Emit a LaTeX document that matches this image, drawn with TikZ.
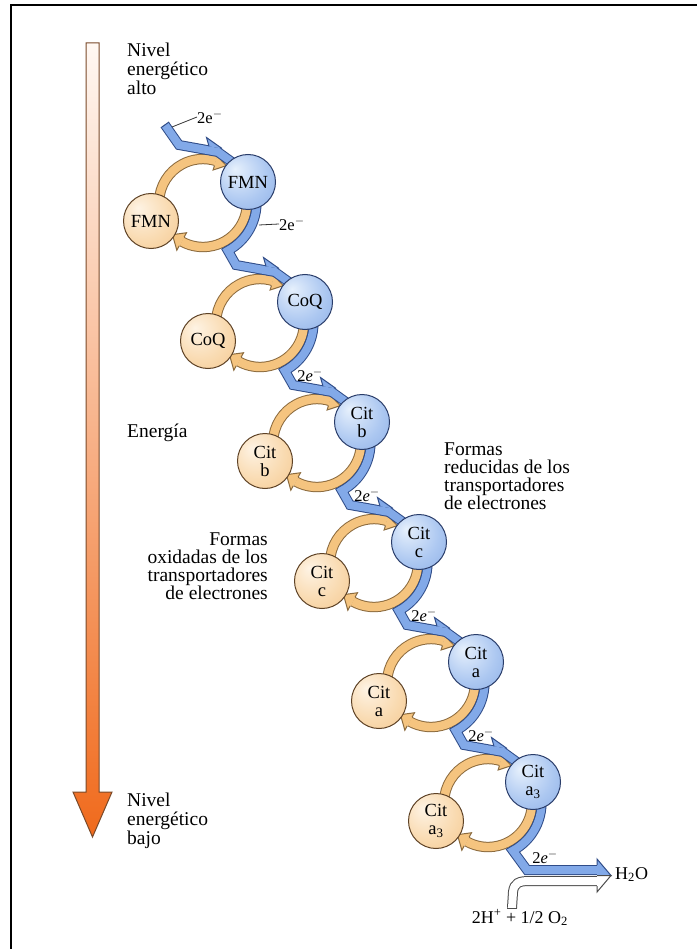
\documentclass[tikz,border=0pt]{standalone}
\usepackage{fontspec}
\setmainfont{Liberation Serif}
\definecolor{bluelight}{HTML}{E6F0FC}
\definecolor{bluemid}{HTML}{ADC8F1}
\definecolor{bluedark}{HTML}{6A95DC}
\definecolor{blueline}{HTML}{2A3D6A}
\definecolor{orlight}{HTML}{FEF3E4}
\definecolor{ormid}{HTML}{F9DAB0}
\definecolor{ordark}{HTML}{EFB46C}
\definecolor{orline}{HTML}{5E4226}
\definecolor{tanfill}{HTML}{F5C47F}
\definecolor{tanline}{HTML}{8C6B3E}
\definecolor{bandfill}{HTML}{82A9E8}
\definecolor{bandline}{HTML}{2F4C88}
\definecolor{arrtop}{HTML}{FFF8F3}
\definecolor{arrbot}{HTML}{F06A1C}
\definecolor{arrline}{HTML}{7A4A2A}
\pgfdeclareradialshading{bsph}{\pgfpoint{-12bp}{12bp}}{color(0bp)=(bluelight); color(25bp)=(bluemid); color(62bp)=(bluedark)}
\pgfdeclareradialshading{osph}{\pgfpoint{-12bp}{12bp}}{color(0bp)=(orlight); color(25bp)=(ormid); color(62bp)=(ordark)}
\tikzset{
 bcirc/.style={circle, draw=blueline, line width=1pt, shade, shading=bsph, minimum size=55pt, inner sep=0pt, align=center, font=\fontsize{18.5pt}{18pt}\selectfont},
 ocirc/.style={circle, draw=orline, line width=1pt, shade, shading=osph, minimum size=55pt, inner sep=0pt, align=center, font=\fontsize{18.5pt}{18pt}\selectfont},
 oring/.style={draw=tanfill, line width=8.4pt, preaction={draw=tanline, line width=10.4pt}},
 otip/.style={draw=tanline, fill=tanfill, line width=1pt, line join=miter},
 bband/.style={draw=bandfill, line width=8pt, line join=miter, preaction={draw=bandline, line width=10pt, line join=miter}},
 bbarb/.style={draw=bandline, fill=bandfill, line width=1pt, line join=miter},
 wband/.style={draw=white, line width=8pt, preaction={draw=black!70, line width=10pt}},
 wbarb/.style={draw=black!70, fill=white, line width=1pt, line join=miter},
 lbl/.style={font=\fontsize{19.5pt}{19pt}\selectfont, inner sep=0pt},
 elbl/.style={font=\fontsize{16.5pt}{16pt}\selectfont, inner sep=0pt},
 leader/.style={draw=black!80, line width=0.8pt},
}
\begin{document}
\begin{tikzpicture}[x=1pt,y=-1pt]
\useasboundingbox (0,0) rectangle (697,949);
\fill[white] (0,0) rectangle (697,949);
% frame
\draw[line width=2pt] (11,949) -- (11,5) -- (697,5);
% energy arrow
\shadedraw[top color=arrtop, bottom color=arrbot, draw=arrline, line width=1pt]
  (86,43) -- (99,43) -- (99,792) -- (112,792) -- (92.5,837) -- (73,792) -- (86,792) -- cycle;
% texts
\node[lbl, anchor=base west] (hi1) at (127,57) {Nivel};
\node[lbl, anchor=base west] (hi2) at (127,76) {energético};
\node[lbl, anchor=base west] (hi3) at (127,95) {alto};
\node[lbl, anchor=base west] (ene) at (127,437) {Energía};
\node[lbl, anchor=base west] (lo1) at (127,806) {Nivel};
\node[lbl, anchor=base west] (lo2) at (127,825) {energético};
\node[lbl, anchor=base west] (lo3) at (127,844) {bajo};
\node[lbl, anchor=base west] (re1) at (444,455) {Formas};
\node[lbl, anchor=base west] (re2) at (444,473) {reducidas de los};
\node[lbl, anchor=base west] (re3) at (444,491) {transportadores};
\node[lbl, anchor=base west] (re4) at (444,509) {de electrones};
\node[lbl, anchor=base east] (ox1) at (268,545) {Formas};
\node[lbl, anchor=base east] (ox2) at (268,563) {oxidadas de los};
\node[lbl, anchor=base east] (ox3) at (268,581) {transportadores};
\node[lbl, anchor=base east] (ox4) at (268,599) {de electrones};
% orange rings
\foreach \i in {0,...,5} {
 \begin{scope}[shift={({248+57*\i},{182+120*\i})}]
  \begin{scope}[shift={(-45,21)}]
   \draw[oring] (182:44) arc[start angle=182, end angle=287, radius=44];
   \filldraw[otip] (287:49) -- (302:44) -- (287:34.5) -- (287:39);
   \draw[oring] (-2:44) arc[start angle=-2, end angle=119, radius=44];
   \filldraw[otip] (119:49) -- (119:54) -- (134:44) -- (119:34) -- (119:39);
  \end{scope}
 \end{scope}
}
% blue bands between stages
\foreach \i in {0,...,4} {
 \begin{scope}[shift={({248+57*\i},{182+120*\i})}]
  \draw[bband] (8,13.5) arc[start angle=-8, end angle=62, radius=54] -- (-12,83) -- (27,90) -- (52,108);
  \filldraw[bbarb] (18,84.3) -- (15.5,75.5) -- (31,86.5);
 \end{scope}
}
% incoming band to FMN
\begin{scope}[shift={(248,182)}]
 \draw[bband] (-83,-57) -- (-69,-37) -- (-30,-30) -- (-5,-12);
 \draw[draw=bandline, line width=1pt] (-79,-60) -- (-87.2,-54.2);
 \filldraw[bbarb] (-39,-35.7) -- (-41.5,-44.5) -- (-26,-33.5);
 \coordinate (top2e) at (-76,-55);
 \node[elbl, anchor=west] (e0) at (-51,-65) {2e$^-$};
 \draw[leader] (top2e) -- (e0.west);
 \coordinate (side2e) at (11,43);
 \node[elbl, anchor=west] (e1) at (31,42) {2e$^-$};
 \draw[leader] (side2e) -- (e1.west);
\end{scope}
% final stage outputs
\begin{scope}[shift={(533,782)}]
 \draw[wband] (-21,126) -- (-20,110) .. controls (-19,101) and (-14,99) .. (-4,99) -- (64,99);
 \draw[draw=black!70, line width=1pt] (-26,126) -- (-16,126);
 \draw[bband] (8,13.5) arc[start angle=-8, end angle=62, radius=54] -- (-6,88) -- (64,88);
 \filldraw[bbarb] (64,83) -- (64,77) -- (78,93.5) -- (64,93.5);
 \filldraw[wbarb] (64,104) -- (64,110) -- (78,93.5) -- (64,93.5);
 \node[elbl] (e6) at (12,75) {2\textit{e}$^-$};
\end{scope}
\node[lbl, anchor=base west, font=\fontsize{18pt}{18pt}\selectfont] (h2o) at (615,879) {H\textsubscript{2}O};
\node[lbl, anchor=base, font=\fontsize{18pt}{18pt}\selectfont] (oxy) at (520,923) {2H\textsuperscript{+} + 1/2 O\textsubscript{2}};
% 2e labels above the bends
\foreach \i in {1,...,4} {
 \node[elbl] (e\i b) at ({248+57*\i+5},{182+120*\i+73}) {2\textit{e}$^-$};
}
% carriers
\foreach \i/\t in {0/FMN,1/CoQ,2/{Cit\\b},3/{Cit\\c},4/{Cit\\a},5/{Cit\\a\textsubscript{3}}} {
 \node[bcirc] (b\i) at ({248+57*\i},{182+120*\i}) {\t};
 \node[ocirc] (o\i) at ({248+57*\i-97},{182+120*\i+39}) {\t};
}
\end{tikzpicture}
\end{document}
